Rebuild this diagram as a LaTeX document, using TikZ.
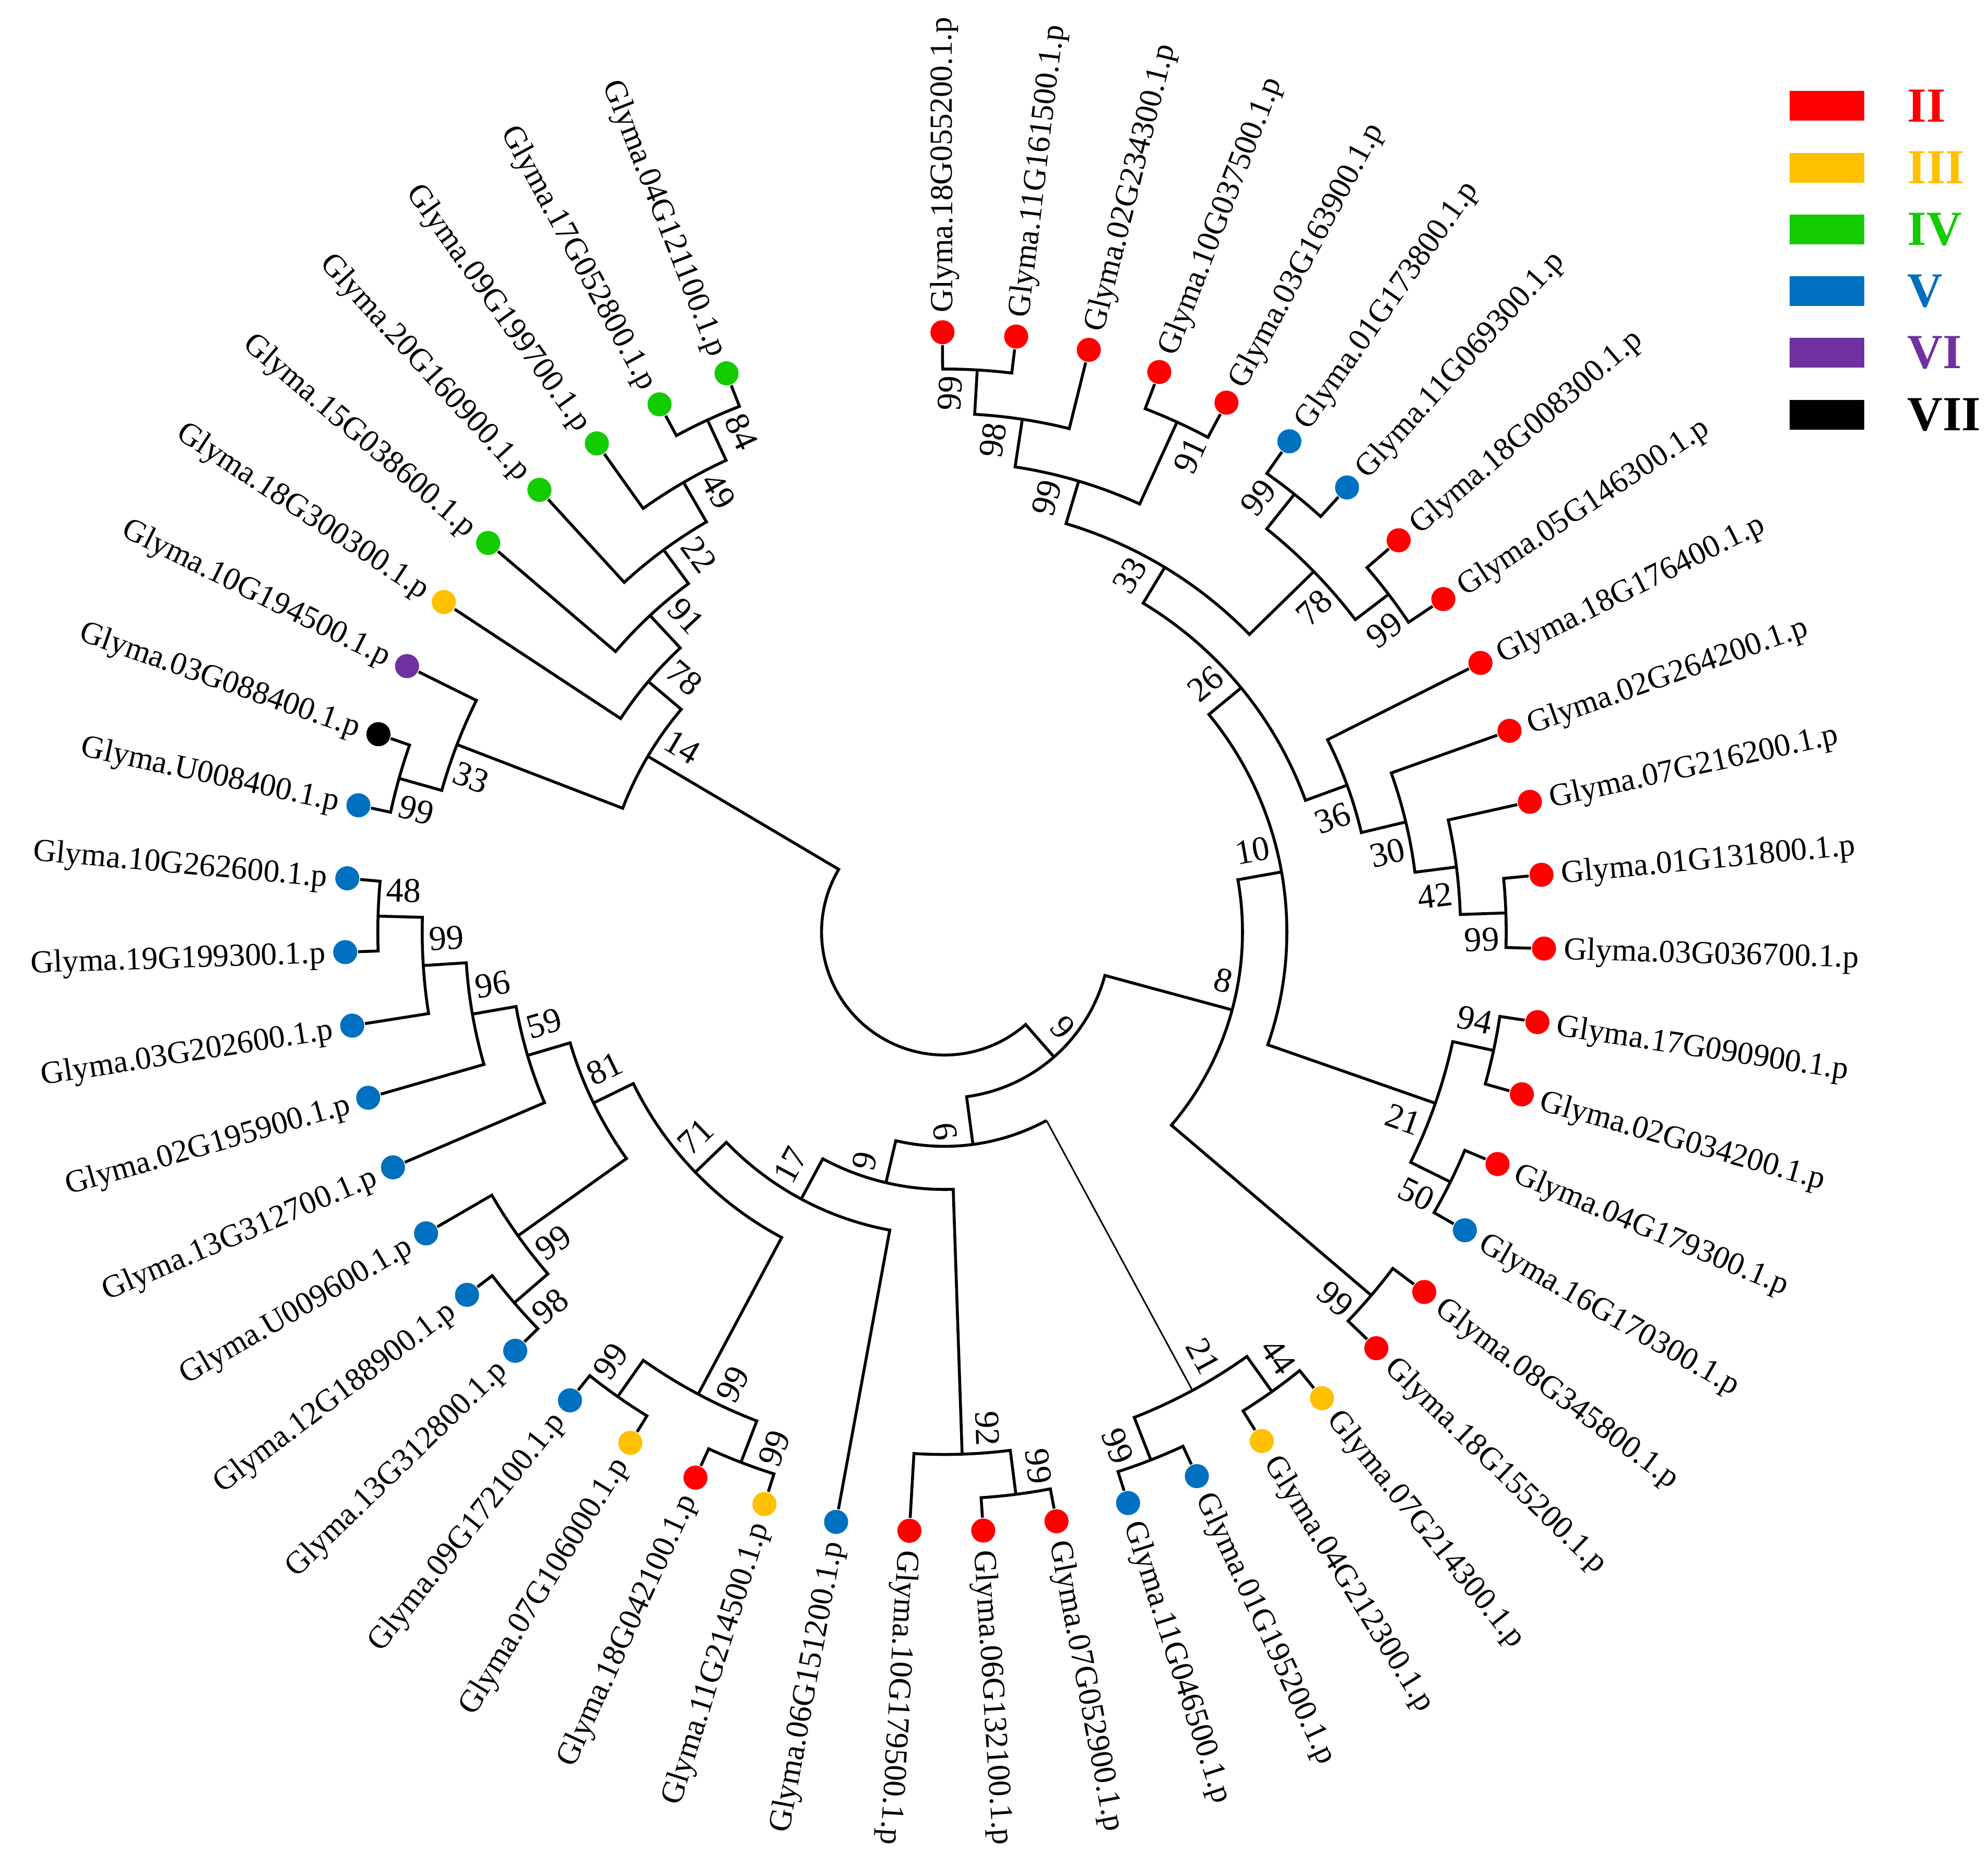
\documentclass[tikz,border=0pt]{standalone}
\usepackage{fontspec}
\setmainfont{Liberation Serif}
\usepackage{tikz}
\usetikzlibrary{positioning}
\definecolor{grpII}{HTML}{FF0000}
\definecolor{grpIII}{HTML}{FFC000}
\definecolor{grpIV}{HTML}{12CC00}
\definecolor{grpV}{HTML}{0070C0}
\definecolor{grpVI}{HTML}{7030A0}
\definecolor{grpVII}{HTML}{000000}

\begin{document}
\begin{tikzpicture}[
        branch/.style={line width=0.65pt},
        thinbranch/.style={line width=0.35pt},
        tip/.style={circle, inner sep=0pt, minimum size=1.9mm},
        gname/.style={font=\fontsize{7.2}{9}\selectfont, inner sep=0pt},
        gnamer/.style={gname, rotate=#1, anchor=mid west},
        gnamel/.style={gname, rotate=#1+180, anchor=mid east},
        bs/.style={font=\fontsize{7.8}{9}\selectfont, inner xsep=1.5pt, inner ysep=3pt},
        bsccw/.style={bs, rotate=#1, anchor=south east},
        bscw/.style={bs, rotate=#1, anchor=north east},
        bsccwl/.style={bs, rotate=#1+180, anchor=north west},
        bscwl/.style={bs, rotate=#1+180, anchor=south west},
        key/.style={minimum width=5.9mm, minimum height=2.35mm, inner sep=0pt},
        keytext/.style={font=\fontsize{11}{13}\selectfont\bfseries, inner sep=0pt}
        ]
        \useasboundingbox (-7.45,-7.34) rectangle (8.23,7.35);

        \node[tip, fill=grpII] (l1) at (90.20:4.73) {};
        \node[gnamer=90.20] (t1) at (90.20:4.88) {Glyma.18G055200.1.p};
        \node[tip, fill=grpII] (l2) at (83.14:4.73) {};
        \node[gnamer=83.14] (t2) at (83.14:4.88) {Glyma.11G161500.1.p};
        \node[tip, fill=grpII] (l3) at (76.08:4.73) {};
        \node[gnamer=76.08] (t3) at (76.08:4.88) {Glyma.02G234300.1.p};
        \node[tip, fill=grpII] (l4) at (69.02:4.73) {};
        \node[gnamer=69.02] (t4) at (69.02:4.88) {Glyma.10G037500.1.p};
        \node[tip, fill=grpII] (l5) at (61.96:4.73) {};
        \node[gnamer=61.96] (t5) at (61.96:4.88) {Glyma.03G163900.1.p};
        \node[tip, fill=grpV] (l6) at (54.90:4.73) {};
        \node[gnamer=54.90] (t6) at (54.90:4.88) {Glyma.01G173800.1.p};
        \node[tip, fill=grpV] (l7) at (47.84:4.73) {};
        \node[gnamer=47.84] (t7) at (47.84:4.88) {Glyma.11G069300.1.p};
        \node[tip, fill=grpII] (l8) at (40.78:4.73) {};
        \node[gnamer=40.78] (t8) at (40.78:4.88) {Glyma.18G008300.1.p};
        \node[tip, fill=grpII] (l9) at (33.72:4.73) {};
        \node[gnamer=33.72] (t9) at (33.72:4.88) {Glyma.05G146300.1.p};
        \node[tip, fill=grpII] (l10) at (26.66:4.73) {};
        \node[gnamer=26.66] (t10) at (26.66:4.88) {Glyma.18G176400.1.p};
        \node[tip, fill=grpII] (l11) at (19.60:4.73) {};
        \node[gnamer=19.60] (t11) at (19.60:4.88) {Glyma.02G264200.1.p};
        \node[tip, fill=grpII] (l12) at (12.54:4.73) {};
        \node[gnamer=12.54] (t12) at (12.54:4.88) {Glyma.07G216200.1.p};
        \node[tip, fill=grpII] (l13) at (5.48:4.73) {};
        \node[gnamer=5.48] (t13) at (5.48:4.88) {Glyma.01G131800.1.p};
        \node[tip, fill=grpII] (l14) at (-1.58:4.73) {};
        \node[gnamer=-1.58] (t14) at (-1.58:4.88) {Glyma.03G036700.1.p};
        \node[tip, fill=grpII] (l15) at (-8.64:4.73) {};
        \node[gnamer=-8.64] (t15) at (-8.64:4.88) {Glyma.17G090900.1.p};
        \node[tip, fill=grpII] (l16) at (-15.70:4.73) {};
        \node[gnamer=-15.70] (t16) at (-15.70:4.88) {Glyma.02G034200.1.p};
        \node[tip, fill=grpII] (l17) at (-22.76:4.73) {};
        \node[gnamer=-22.76] (t17) at (-22.76:4.88) {Glyma.04G179300.1.p};
        \node[tip, fill=grpV] (l18) at (-29.82:4.73) {};
        \node[gnamer=-29.82] (t18) at (-29.82:4.88) {Glyma.16G170300.1.p};
        \node[tip, fill=grpII] (l19) at (-36.88:4.73) {};
        \node[gnamer=-36.88] (t19) at (-36.88:4.88) {Glyma.08G345800.1.p};
        \node[tip, fill=grpII] (l20) at (-43.94:4.73) {};
        \node[gnamer=-43.94] (t20) at (-43.94:4.88) {Glyma.18G155200.1.p};
        \node[tip, fill=grpIII] (l21) at (-51.00:4.73) {};
        \node[gnamer=-51.00] (t21) at (-51.00:4.88) {Glyma.07G214300.1.p};
        \node[tip, fill=grpIII] (l22) at (-58.06:4.73) {};
        \node[gnamer=-58.06] (t22) at (-58.06:4.88) {Glyma.04G212300.1.p};
        \node[tip, fill=grpV] (l23) at (-65.12:4.73) {};
        \node[gnamer=-65.12] (t23) at (-65.12:4.88) {Glyma.01G195200.1.p};
        \node[tip, fill=grpV] (l24) at (-72.18:4.73) {};
        \node[gnamer=-72.18] (t24) at (-72.18:4.88) {Glyma.11G046500.1.p};
        \node[tip, fill=grpII] (l25) at (-79.24:4.73) {};
        \node[gnamer=-79.24] (t25) at (-79.24:4.88) {Glyma.07G052900.1.p};
        \node[tip, fill=grpII] (l26) at (-86.30:4.73) {};
        \node[gnamer=-86.30] (t26) at (-86.30:4.88) {Glyma.06G132100.1.p};
        \node[tip, fill=grpII] (l27) at (-93.36:4.73) {};
        \node[gnamer=-93.36] (t27) at (-93.36:4.88) {Glyma.10G179500.1.p};
        \node[tip, fill=grpV] (l28) at (-100.42:4.73) {};
        \node[gnamel=-100.42] (t28) at (-100.42:4.88) {Glyma.06G151200.1.p};
        \node[tip, fill=grpIII] (l29) at (-107.48:4.73) {};
        \node[gnamel=-107.48] (t29) at (-107.48:4.88) {Glyma.11G214500.1.p};
        \node[tip, fill=grpII] (l30) at (-114.54:4.73) {};
        \node[gnamel=-114.54] (t30) at (-114.54:4.88) {Glyma.18G042100.1.p};
        \node[tip, fill=grpIII] (l31) at (-121.60:4.73) {};
        \node[gnamel=-121.60] (t31) at (-121.60:4.88) {Glyma.07G106000.1.p};
        \node[tip, fill=grpV] (l32) at (-128.66:4.73) {};
        \node[gnamel=-128.66] (t32) at (-128.66:4.88) {Glyma.09G172100.1.p};
        \node[tip, fill=grpV] (l33) at (-135.72:4.73) {};
        \node[gnamel=-135.72] (t33) at (-135.72:4.88) {Glyma.13G312800.1.p};
        \node[tip, fill=grpV] (l34) at (-142.78:4.73) {};
        \node[gnamel=-142.78] (t34) at (-142.78:4.88) {Glyma.12G188900.1.p};
        \node[tip, fill=grpV] (l35) at (-149.84:4.73) {};
        \node[gnamel=-149.84] (t35) at (-149.84:4.88) {Glyma.U009600.1.p};
        \node[tip, fill=grpV] (l36) at (-156.90:4.73) {};
        \node[gnamel=-156.90] (t36) at (-156.90:4.88) {Glyma.13G312700.1.p};
        \node[tip, fill=grpV] (l37) at (-163.96:4.73) {};
        \node[gnamel=-163.96] (t37) at (-163.96:4.88) {Glyma.02G195900.1.p};
        \node[tip, fill=grpV] (l38) at (-171.02:4.73) {};
        \node[gnamel=-171.02] (t38) at (-171.02:4.88) {Glyma.03G202600.1.p};
        \node[tip, fill=grpV] (l39) at (-178.08:4.73) {};
        \node[gnamel=-178.08] (t39) at (-178.08:4.88) {Glyma.19G199300.1.p};
        \node[tip, fill=grpV] (l40) at (-185.14:4.73) {};
        \node[gnamel=-185.14] (t40) at (-185.14:4.88) {Glyma.10G262600.1.p};
        \node[tip, fill=grpV] (l41) at (-192.20:4.73) {};
        \node[gnamel=-192.20] (t41) at (-192.20:4.88) {Glyma.U008400.1.p};
        \node[tip, fill=grpVII] (l42) at (-199.26:4.73) {};
        \node[gnamel=-199.26] (t42) at (-199.26:4.88) {Glyma.03G088400.1.p};
        \node[tip, fill=grpVI] (l43) at (-206.32:4.73) {};
        \node[gnamel=-206.32] (t43) at (-206.32:4.88) {Glyma.10G194500.1.p};
        \node[tip, fill=grpIII] (l44) at (-213.38:4.73) {};
        \node[gnamel=-213.38] (t44) at (-213.38:4.88) {Glyma.18G300300.1.p};
        \node[tip, fill=grpIV] (l45) at (-220.44:4.73) {};
        \node[gnamel=-220.44] (t45) at (-220.44:4.88) {Glyma.15G038600.1.p};
        \node[tip, fill=grpIV] (l46) at (-227.50:4.73) {};
        \node[gnamel=-227.50] (t46) at (-227.50:4.88) {Glyma.20G160900.1.p};
        \node[tip, fill=grpIV] (l47) at (-234.56:4.73) {};
        \node[gnamel=-234.56] (t47) at (-234.56:4.88) {Glyma.09G199700.1.p};
        \node[tip, fill=grpIV] (l48) at (-241.62:4.73) {};
        \node[gnamel=-241.62] (t48) at (-241.62:4.88) {Glyma.17G052800.1.p};
        \node[tip, fill=grpIV] (l49) at (-248.68:4.73) {};
        \node[gnamel=-248.68] (t49) at (-248.68:4.88) {Glyma.04G121100.1.p};

        \coordinate (a12) at (86.67:4.44);
        \draw[branch] (l1) -- (90.20:4.44) arc[start angle=90.20, end angle=83.14, radius=4.44] -- (l2);
        \node[bsccw=86.67] (a12b) at (a12) {99};
        \coordinate (a123) at (81.375:4.09);
        \draw[branch] (a12) -- (86.67:4.09) arc[start angle=86.67, end angle=76.08, radius=4.09] -- (l3);
        \node[bsccw=81.375] (a123b) at (a123) {98};
        \coordinate (a45) at (65.49:4.42);
        \draw[branch] (l4) -- (69.02:4.42) arc[start angle=69.02, end angle=61.96, radius=4.42] -- (l5);
        \node[bscw=65.49] (a45b) at (a45) {91};
        \coordinate (a15) at (73.43:3.71);
        \draw[branch] (a123) -- (81.375:3.71) arc[start angle=81.375, end angle=65.49, radius=3.71] -- (a45);
        \node[bsccw=73.43] (a15b) at (a15) {99};
        \coordinate (a67) at (51.37:4.42);
        \draw[branch] (l6) -- (54.90:4.42) arc[start angle=54.90, end angle=47.84, radius=4.42] -- (l7);
        \node[bsccw=51.37] (a67b) at (a67) {99};
        \coordinate (a89) at (37.25:4.40);
        \draw[branch] (l8) -- (40.78:4.40) arc[start angle=40.78, end angle=33.72, radius=4.40] -- (l9);
        \node[bscw=37.25] (a89b) at (a89) {99};
        \coordinate (a69) at (44.31:4.07);
        \draw[branch] (a67) -- (51.37:4.07) arc[start angle=51.37, end angle=37.25, radius=4.07] -- (a89);
        \node[bscw=44.31] (a69b) at (a69) {78};
        \coordinate (a19) at (58.87:3.36);
        \draw[branch] (a15) -- (73.43:3.36) arc[start angle=73.43, end angle=44.31, radius=3.36] -- (a69);
        \node[bsccw=58.87] (a19b) at (a19) {33};

        \coordinate (b1314) at (1.95:4.43);
        \draw[branch] (l13) -- (5.48:4.43) arc[start angle=5.48, end angle=-1.58, radius=4.43] -- (l14);
        \node[bscw=1.95] (b1314b) at (b1314) {99};
        \coordinate (b1214) at (7.245:4.07);
        \draw[branch] (l12) -- (12.54:4.07) arc[start angle=12.54, end angle=1.95, radius=4.07] -- (b1314);
        \node[bscw=7.245] (b1214b) at (b1214) {42};
        \coordinate (b1114) at (13.42:3.74);
        \draw[branch] (l11) -- (19.60:3.74) arc[start angle=19.60, end angle=7.245, radius=3.74] -- (b1214);
        \node[bscw=13.42] (b1114b) at (b1114) {30};
        \coordinate (b1014) at (20.04:3.38);
        \draw[branch] (l10) -- (26.66:3.38) arc[start angle=26.66, end angle=13.42, radius=3.38] -- (b1114);
        \node[bscw=20.04] (b1014b) at (b1014) {36};
        \coordinate (n26) at (39.455:3.03);
        \draw[branch] (a19) -- (58.87:3.03) arc[start angle=58.87, end angle=20.04, radius=3.03] -- (b1014);
        \node[bsccw=39.455] (n26b) at (n26) {26};

        \coordinate (c1516) at (-12.17:4.43);
        \draw[branch] (l15) -- (-8.64:4.43) arc[start angle=-8.64, end angle=-15.70, radius=4.43] -- (l16);
        \node[bsccw=-12.17] (c1516b) at (c1516) {94};
        \coordinate (c1718) at (-26.29:4.45);
        \draw[branch] (l17) -- (-22.76:4.45) arc[start angle=-22.76, end angle=-29.82, radius=4.45] -- (l18);
        \node[bscw=-26.29] (c1718b) at (c1718) {50};
        \coordinate (c1518) at (-19.23:4.10);
        \draw[branch] (c1516) -- (-12.17:4.10) arc[start angle=-12.17, end angle=-26.29, radius=4.10] -- (c1718);
        \node[bscw=-19.23] (c1518b) at (c1518) {21};
        \coordinate (n10) at (10.11:2.70);
        \draw[branch] (n26) -- (39.455:2.70) arc[start angle=39.455, end angle=-19.23, radius=2.70] -- (c1518);
        \node[bsccw=10.11] (n10b) at (n10) {10};
        \coordinate (d1920) at (-40.41:4.42);
        \draw[branch] (l19) -- (-36.88:4.42) arc[start angle=-36.88, end angle=-43.94, radius=4.42] -- (l20);
        \node[bscw=-40.41] (d1920b) at (d1920) {99};
        \coordinate (n8) at (-15.15:2.35);
        \draw[branch] (n10) -- (10.11:2.35) arc[start angle=10.11, end angle=-40.41, radius=2.35] -- (d1920);
        \node[bsccw=-15.15] (n8b) at (n8) {8};

        \coordinate (e2122) at (-54.53:4.45);
        \draw[branch] (l21) -- (-51.00:4.45) arc[start angle=-51.00, end angle=-58.06, radius=4.45] -- (l22);
        \node[bsccw=-54.53] (e2122b) at (e2122) {44};
        \coordinate (e2324) at (-68.65:4.47);
        \draw[branch] (l23) -- (-65.12:4.47) arc[start angle=-65.12, end angle=-72.18, radius=4.47] -- (l24);
        \node[bscw=-68.65] (e2324b) at (e2324) {99};
        \coordinate (e2124) at (-61.59:4.11);
        \draw[branch] (e2122) -- (-54.53:4.11) arc[start angle=-54.53, end angle=-68.65, radius=4.11] -- (e2324);
        \node[bsccw=-61.59] (e2124b) at (e2124) {21};
        \coordinate (f2526) at (-82.77:4.47);
        \draw[branch] (l25) -- (-79.24:4.47) arc[start angle=-79.24, end angle=-86.30, radius=4.47] -- (l26);
        \node[bsccw=-82.77] (f2526b) at (f2526) {99};
        \coordinate (f2527) at (-88.07:4.12);
        \draw[branch] (f2526) -- (-82.77:4.12) arc[start angle=-82.77, end angle=-93.36, radius=4.12] -- (l27);
        \node[bsccw=-88.07] (f2527b) at (f2527) {92};

        \coordinate (g2930) at (-111.01:4.48);
        \draw[branch] (l29) -- (-107.48:4.48) arc[start angle=-107.48, end angle=-114.54, radius=4.48] -- (l30);
        \node[bsccwl=-111.01] (g2930b) at (g2930) {99};
        \coordinate (g3132) at (-125.13:4.48);
        \draw[branch] (l31) -- (-121.60:4.48) arc[start angle=-121.60, end angle=-128.66, radius=4.48] -- (l32);
        \node[bscwl=-125.13] (g3132b) at (g3132) {99};
        \coordinate (g2932) at (-118.07:4.13);
        \draw[branch] (g2930) -- (-111.01:4.13) arc[start angle=-111.01, end angle=-125.13, radius=4.13] -- (g3132);
        \node[bsccwl=-118.07] (g2932b) at (g2932) {99};
        \coordinate (h3334) at (-139.25:4.48);
        \draw[branch] (l33) -- (-135.72:4.48) arc[start angle=-135.72, end angle=-142.78, radius=4.48] -- (l34);
        \node[bsccwl=-139.25] (h3334b) at (h3334) {98};
        \coordinate (h3335) at (-144.55:4.13);
        \draw[branch] (h3334) -- (-139.25:4.13) arc[start angle=-139.25, end angle=-149.84, radius=4.13] -- (l35);
        \node[bsccwl=-144.55] (h3335b) at (h3335) {99};
        \coordinate (i3940) at (-181.61:4.47);
        \draw[branch] (l39) -- (-178.08:4.47) arc[start angle=-178.08, end angle=-185.14, radius=4.47] -- (l40);
        \node[bscwl=-181.61] (i3940b) at (i3940) {48};
        \coordinate (i3840) at (-176.32:4.12);
        \draw[branch] (l38) -- (-171.02:4.12) arc[start angle=-171.02, end angle=-181.61, radius=4.12] -- (i3940);
        \node[bscwl=-176.32] (i3840b) at (i3840) {99};
        \coordinate (i3740) at (-170.14:3.78);
        \draw[branch] (l37) -- (-163.96:3.78) arc[start angle=-163.96, end angle=-176.32, radius=3.78] -- (i3840);
        \node[bscwl=-170.14] (i3740b) at (i3740) {96};
        \coordinate (i3640) at (-163.52:3.43);
        \draw[branch] (l36) -- (-156.90:3.43) arc[start angle=-156.90, end angle=-170.14, radius=3.43] -- (i3740);
        \node[bscwl=-163.52] (i3640b) at (i3640) {59};
        \coordinate (n81) at (-154.04:3.08);
        \draw[branch] (h3335) -- (-144.55:3.08) arc[start angle=-144.55, end angle=-163.52, radius=3.08] -- (i3640);
        \node[bscwl=-154.04] (n81b) at (n81) {81};
        \coordinate (n71) at (-136.06:2.73);
        \draw[branch] (g2932) -- (-118.07:2.73) arc[start angle=-118.07, end angle=-154.04, radius=2.73] -- (n81);
        \node[bscwl=-136.06] (n71b) at (n71) {71};
        \coordinate (n17) at (-118.24:2.39);
        \draw[branch] (l28) -- (-100.42:2.39) arc[start angle=-100.42, end angle=-136.06, radius=2.39] -- (n71);
        \node[bscwl=-118.24] (n17b) at (n17) {17};
        \coordinate (n9b) at (-103.16:2.03);
        \draw[branch] (f2527) -- (-88.07:2.03) arc[start angle=-88.07, end angle=-118.24, radius=2.03] -- (n17);
        \node[bscwl=-103.16] (n9bb) at (n9b) {9};
        \coordinate (n6) at (-82.38:1.69);
        \coordinate (n6e) at (-61.59:1.69);
        \draw[thinbranch] (e2124) -- (n6e);
        \draw[branch] (n6e) arc[start angle=-61.59, end angle=-103.16, radius=1.69] -- (n9b);
        \node[bscw=-82.38] (n6b) at (n6) {6};
        \coordinate (n9) at (-48.77:1.31);
        \draw[branch] (n8) -- (-15.15:1.31) arc[start angle=-15.15, end angle=-82.38, radius=1.31] -- (n6);
        \node[bsccw=-48.77] (n9v) at (n9) {9};

        \coordinate (j4142) at (-195.73:4.47);
        \draw[branch] (l41) -- (-192.20:4.47) arc[start angle=-192.20, end angle=-199.26, radius=4.47] -- (l42);
        \node[bsccwl=-195.73] (j4142b) at (j4142) {99};
        \coordinate (j4143) at (-201.03:4.12);
        \draw[branch] (j4142) -- (-195.73:4.12) arc[start angle=-195.73, end angle=-206.32, radius=4.12] -- (l43);
        \node[bsccwl=-201.03] (j4143b) at (j4143) {33};
        \coordinate (j4849) at (-245.15:4.45);
        \draw[branch] (l48) -- (-241.62:4.45) arc[start angle=-241.62, end angle=-248.68, radius=4.45] -- (l49);
        \node[bscwl=-245.15] (j4849b) at (j4849) {84};
        \coordinate (j4749) at (-239.86:4.10);
        \draw[branch] (l47) -- (-234.56:4.10) arc[start angle=-234.56, end angle=-245.15, radius=4.10] -- (j4849);
        \node[bscwl=-239.86] (j4749b) at (j4749) {49};
        \coordinate (j4649) at (-233.68:3.74);
        \draw[branch] (l46) -- (-227.50:3.74) arc[start angle=-227.50, end angle=-239.86, radius=3.74] -- (j4749);
        \node[bscwl=-233.68] (j4649b) at (j4649) {22};
        \coordinate (j4549) at (-227.06:3.41);
        \draw[branch] (l45) -- (-220.44:3.41) arc[start angle=-220.44, end angle=-233.68, radius=3.41] -- (j4649);
        \node[bscwl=-227.06] (j4549b) at (j4549) {91};
        \coordinate (j4449) at (-220.22:3.06);
        \draw[branch] (l44) -- (-213.38:3.06) arc[start angle=-213.38, end angle=-227.06, radius=3.06] -- (j4549);
        \node[bscwl=-220.22] (j4449b) at (j4449) {78};
        \coordinate (j14) at (-210.63:2.72);
        \draw[branch] (j4143) -- (-201.03:2.72) arc[start angle=-201.03, end angle=-220.22, radius=2.72] -- (j4449);
        \node[bscwl=-210.63] (j14b) at (j14) {14};

        \draw[branch] (j14) -- (-210.63:0.97) arc[start angle=-210.63, end angle=-48.77, radius=0.97] -- (n9);

        \node[key, fill=grpII] (kII) at (6.96,6.515) {};
        \node[key, fill=grpIII, below=2.38mm of kII] (kIII) {};
        \node[key, fill=grpIV, below=2.38mm of kIII] (kIV) {};
        \node[key, fill=grpV, below=2.38mm of kIV] (kV) {};
        \node[key, fill=grpVI, below=2.38mm of kV] (kVI) {};
        \node[key, fill=grpVII, below=2.38mm of kVI] (kVII) {};
        \node[keytext, text=grpII, right=3.25mm of kII] (tII) {II};
        \node[keytext, text=grpIII, right=3.25mm of kIII] (tIII) {III};
        \node[keytext, text=grpIV, right=3.25mm of kIV] (tIV) {IV};
        \node[keytext, text=grpV, right=3.25mm of kV] (tV) {V};
        \node[keytext, text=grpVI, right=3.25mm of kVI] (tVI) {VI};
        \node[keytext, text=grpVII, right=3.25mm of kVII] (tVII) {VII};
\end{tikzpicture}
\end{document}
